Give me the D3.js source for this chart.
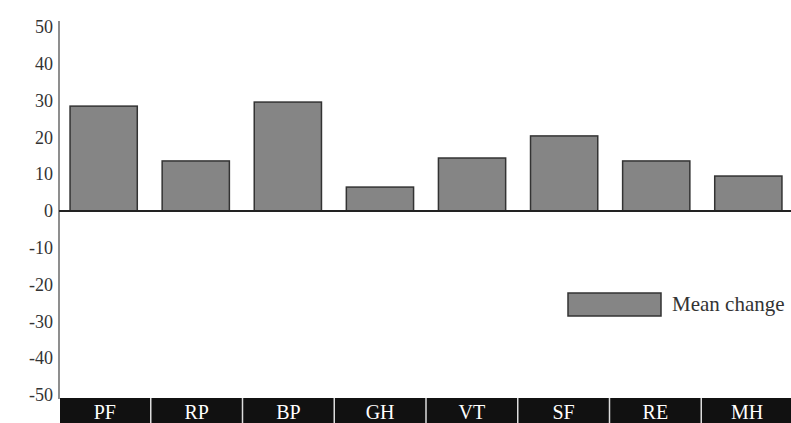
<!DOCTYPE html>
<html><head><meta charset="utf-8">
<script src="https://cdn.jsdelivr.net/npm/d3@7"></script>
<style>body{margin:0;background:#fff}svg{display:block}</style>
</head><body>
<svg id="c" width="791" height="423"></svg>
<script>
const categories = ["PF","RP","BP","GH","VT","SF","RE","MH"];
const meanChange = [28.5,13.6,29.6,6.5,14.4,20.4,13.6,9.5];
const yTicks = [50,40,30,20,10,0,-10,-20,-30,-40,-50];
const seriesName = "Mean change";

(function(){
const svg = d3.select("#c");
const font = "'Liberation Serif','DejaVu Serif',serif";
const mLeft = 59, mRight = 793, mTop = 27, mBottom = 395;
const x = d3.scaleBand().domain(categories).range([mLeft, mRight]).paddingInner(0.27).paddingOuter(0.12);
const xb = d3.scaleBand().domain(categories).range([mLeft, mRight]);
const y = d3.scaleLinear().domain([-50, 50]).range([mBottom, mTop]);

// y axis
const ya = svg.append("g").attr("transform", `translate(${mLeft},0)`)
  .call(d3.axisLeft(y).tickValues(yTicks).tickSize(0).tickPadding(6).tickFormat(d => d));
ya.select(".domain").attr("stroke", "#444").attr("stroke-width", 1.2)
  .attr("d", `M0,${mTop-6}V${mBottom+4}`);
ya.selectAll("text").attr("font-family", font).attr("font-size", 18).attr("fill", "#333");

// bars
svg.append("g").selectAll("rect").data(categories).join("rect")
  .attr("x", d => x(d))
  .attr("width", x.bandwidth())
  .attr("y", (d,i) => y(Math.max(0, meanChange[i])))
  .attr("height", (d,i) => Math.abs(y(meanChange[i]) - y(0)))
  .attr("fill", "#858585").attr("stroke", "#333").attr("stroke-width", 1.5);

// zero line
svg.append("line").attr("x1", mLeft).attr("x2", 791).attr("y1", y(0)).attr("y2", y(0))
  .attr("stroke", "#222").attr("stroke-width", 2);

// category band
const band = svg.append("g");
band.append("rect").attr("x", mLeft+1).attr("y", 398).attr("width", 791-mLeft).attr("height", 25).attr("fill", "#111");
band.selectAll("line").data(categories.slice(1)).join("line")
  .attr("x1", d => xb(d)).attr("x2", d => xb(d)).attr("y1", 398).attr("y2", 423)
  .attr("stroke", "#ddd").attr("stroke-width", 1.5);
band.selectAll("text").data(categories).join("text")
  .attr("x", d => xb(d) + xb.bandwidth()/2).attr("y", 419)
  .attr("text-anchor", "middle").attr("fill", "#fff")
  .attr("font-family", font).attr("font-size", 20).text(d => d);

// legend
const lg = svg.append("g");
lg.append("rect").attr("x", 568).attr("y", 293).attr("width", 93).attr("height", 23)
  .attr("fill", "#858585").attr("stroke", "#333").attr("stroke-width", 1.5);
lg.append("text").attr("x", 672).attr("y", 311).attr("font-family", font).attr("font-size", 21)
  .attr("fill", "#333").text(seriesName);
})();
</script>
</body></html>
